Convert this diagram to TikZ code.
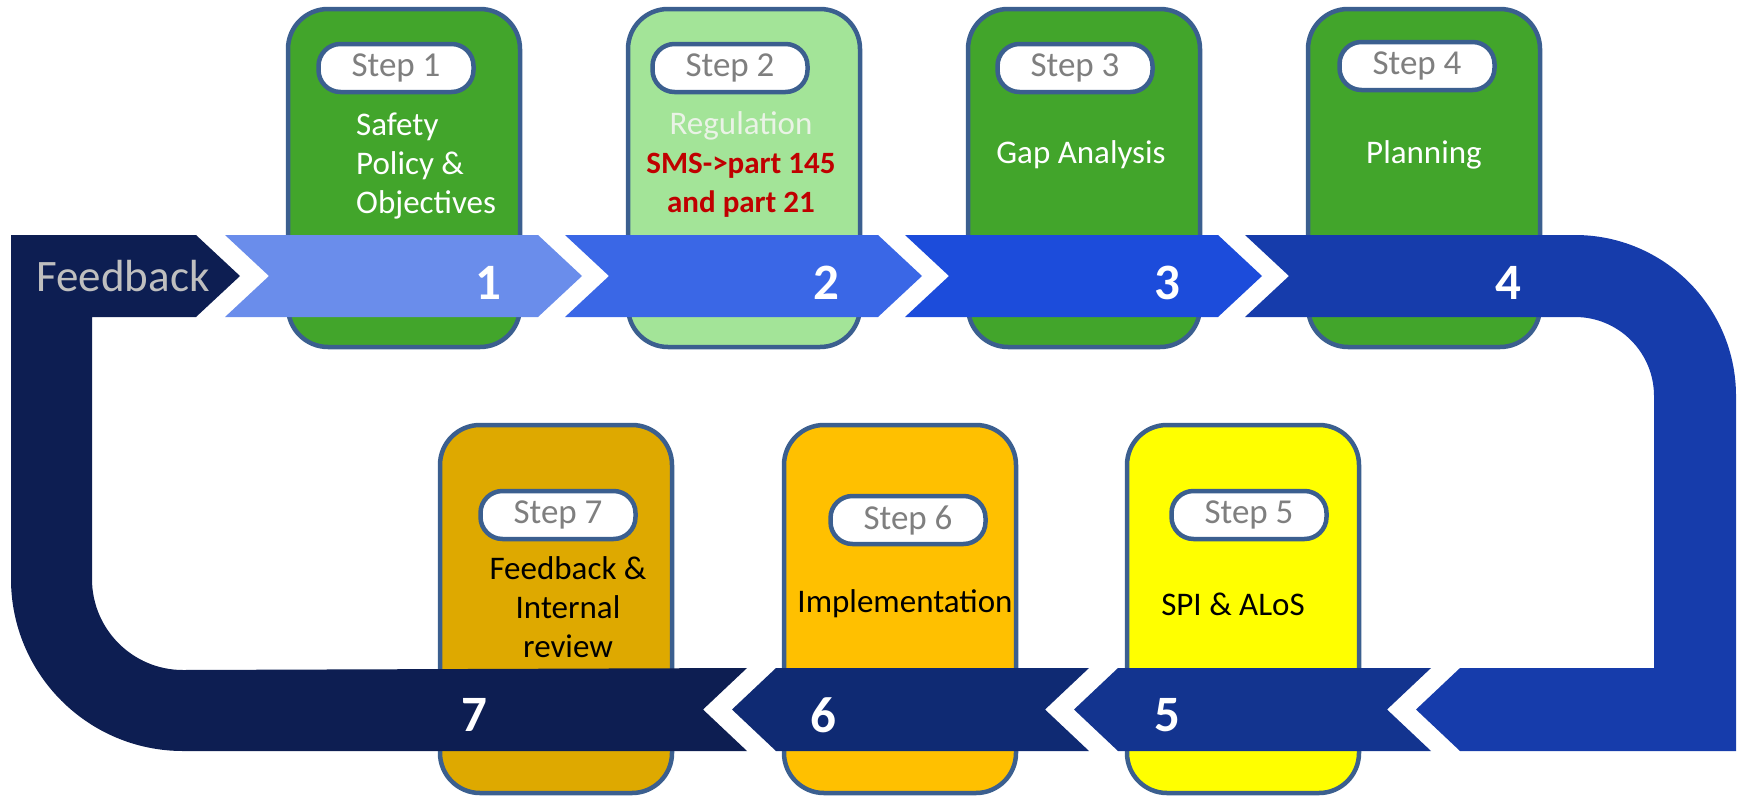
\documentclass[tikz,border=0pt]{standalone}
\usepackage{fontspec}
\setmainfont{Carlito}
\usepackage{tikz}
\usetikzlibrary{positioning}

\definecolor{cardedge}{HTML}{3B5F8F}
\definecolor{stepgreen}{HTML}{42A52B}
\definecolor{palegreen}{HTML}{A3E498}
\definecolor{darkgold}{HTML}{DEA900}
\definecolor{cardamber}{HTML}{FFC000}
\definecolor{lemon}{HTML}{FFFF00}
\definecolor{taggray}{HTML}{7F7F7F}
\definecolor{regred}{HTML}{C00000}
\definecolor{paletext}{HTML}{EAF3E6}
\definecolor{fbgray}{HTML}{BFBFBF}
\definecolor{loopnavy}{HTML}{0D1E52}
\definecolor{blueA}{HTML}{6A8DEB}
\definecolor{blueB}{HTML}{3A67E6}
\definecolor{blueC}{HTML}{1C4CDB}
\definecolor{blueD}{HTML}{163CAB}
\definecolor{blueE}{HTML}{13348F}
\definecolor{blueF}{HTML}{0F2A73}

\begin{document}
\begin{tikzpicture}[
    x=1pt, y=-1pt,
    card/.style={rectangle, draw=cardedge, line width=4.5pt, rounded corners=40pt, minimum width=232pt, minimum height=338pt},
    lowcard/.style={card, minimum height=368pt},
    tag/.style={rectangle, draw=cardedge, line width=4.5pt, fill=white, rounded corners=22pt, minimum width=155pt, minimum height=48pt, inner sep=0pt, text=taggray, font=\fontsize{35}{40}\selectfont},
    body/.style={align=center, inner sep=0pt, font=\fontsize{33}{39}\selectfont},
    num/.style={inner sep=0pt, text=white, font=\fontsize{51}{55}\selectfont\bfseries}
]
\useasboundingbox (0,0) rectangle (1739,795);

% Top cards
\node[card, fill=stepgreen] (card1) at (404,178) {};
\node[card, fill=palegreen] (card2) at (744,178) {};
\node[card, fill=stepgreen] (card3) at (1084,178) {};
\node[card, fill=stepgreen] (card4) at (1424,178) {};

% Bottom cards
\node[lowcard, fill=darkgold] (card7) at (556,609) {};
\node[lowcard, fill=cardamber] (card6) at (900,609) {};
\node[lowcard, fill=lemon] (card5) at (1243,609) {};

% Step tags
\node[tag, below=35pt of card1.north, xshift=-8pt] (tag1) {Step 1};
\node[tag, below=35pt of card2.north, xshift=-14pt] (tag2) {Step 2};
\node[tag, below=35pt of card3.north, xshift=-9pt] (tag3) {Step 3};
\node[tag, below=33pt of card4.north, xshift=-7pt] (tag4) {Step 4};
\node[tag, below=66pt of card7.north, xshift=2pt] (tag7) {Step 7};
\node[tag, below=71pt of card6.north, xshift=8pt] (tag6) {Step 6};
\node[tag, below=66pt of card5.north, xshift=6pt] (tag5) {Step 5};

% Card texts
\node[body, anchor=west, align=left, text=white] (txt1) at (356,166) {Safety\\Policy \&\\Objectives};
\node[body, text=paletext] (txt2) at (741,164) {Regulation\\\textcolor{regred}{\fontsize{31}{39}\selectfont\bfseries SMS->part 145}\\\textcolor{regred}{\fontsize{31}{39}\selectfont\bfseries and part 21}};
\node[body, text=white] (txt3) at (1081,155) {Gap Analysis};
\node[body, text=white] (txt4) at (1424,155) {Planning};
\node[body] (txt7) at (568,607) {Feedback \&\\Internal\\review};
\node[body] (txt6) at (905,604) {Implementation};
\node[body] (txt5) at (1233,604) {SPI \& ALoS};

% Feedback loop band
\fill[loopnavy] (11,235) -- (196,235) -- (240,276) -- (196,317) -- (92,317) -- (92,579)
    arc[start angle=180, end angle=90, radius=91] -- (747,668) -- (703,709.5) -- (747,751)
    -- (183,751) arc[start angle=90, end angle=180, radius=172] -- cycle;

% Turn band
\fill[blueD] (1245,235) -- (1575,235) arc[start angle=270, end angle=360, radius=161]
    -- (1736,751) -- (1460,751) -- (1416,709.5) -- (1460,668) -- (1654,668) -- (1654,396)
    arc[start angle=0, end angle=-90, radius=79] -- (1245,317) -- (1289,276) -- cycle;

% Top chevrons
\fill[blueA] (225,235) -- (538,235) -- (582,276) -- (538,317) -- (225,317) -- (269,276) -- cycle;
\fill[blueB] (565,235) -- (878,235) -- (922,276) -- (878,317) -- (565,317) -- (609,276) -- cycle;
\fill[blueC] (905,235) -- (1218,235) -- (1262,276) -- (1218,317) -- (905,317) -- (949,276) -- cycle;

% Bottom chevrons
\fill[blueE] (1431,668) -- (1118,668) -- (1074,709.5) -- (1118,751) -- (1431,751) -- (1387,709.5) -- cycle;
\fill[blueF] (1089,668) -- (776,668) -- (732,709.5) -- (776,751) -- (1089,751) -- (1045,709.5) -- cycle;

% Numbers
\node[inner sep=0pt, text=fbgray, font=\fontsize{45}{50}\selectfont] (fbtext) at (123,276) {Feedback};
\node[num] (num1) at (488,283) {1};
\node[num] (num2) at (826,283) {2};
\node[num] (num3) at (1167,283) {3};
\node[num] (num4) at (1508,283) {4};
\node[num] (num5) at (1167,715) {5};
\node[num] (num6) at (823,715) {6};
\node[num] (num7) at (474,715) {7};

\end{tikzpicture}
\end{document}
